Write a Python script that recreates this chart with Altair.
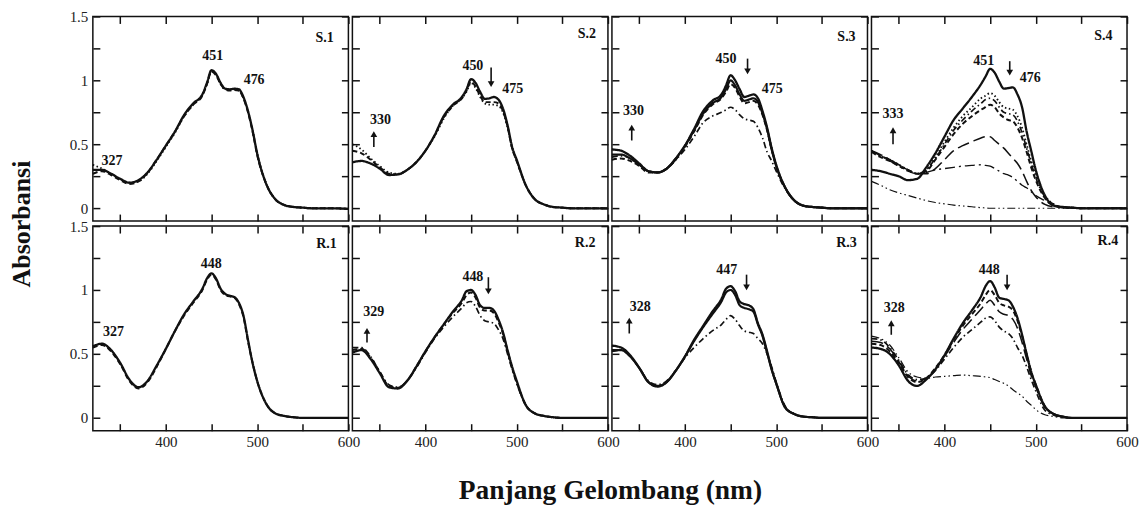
import altair as alt
import pandas as pd

# ---------------- data ----------------
WL = [320, 330, 340, 350, 360, 370, 380, 390, 400, 410, 420, 430, 440, 445, 450, 455,
      460, 465, 470, 475, 480, 485, 490, 495, 500, 510, 520, 530, 540, 550, 560, 580, 600]

S1_A = [0.30,0.30,0.27,0.23,0.20,0.22,0.28,0.38,0.49,0.60,0.73,0.82,0.89,0.98,1.08,1.05,0.98,0.935,0.93,0.935,0.93,0.87,0.76,0.61,0.43,0.19,0.07,0.025,0.01,0.005,0.0,0.0,-0.005]
S1_B = [0.27,0.29,0.26,0.22,0.19,0.21,0.28,0.38,0.49,0.60,0.72,0.81,0.88,0.97,1.07,1.04,0.97,0.93,0.92,0.925,0.92,0.86,0.75,0.60,0.42,0.19,0.07,0.025,0.01,0.005,0.0,0.0,-0.005]
S1_C = [0.34,0.31,0.27,0.23,0.20,0.21,0.27,0.37,0.48,0.59,0.72,0.81,0.89,0.97,1.07,1.05,0.97,0.93,0.93,0.93,0.92,0.86,0.76,0.61,0.43,0.19,0.07,0.025,0.01,0.005,0.0,0.0,-0.005]

S2_A = [0.36,0.37,0.35,0.31,0.26,0.265,0.30,0.36,0.45,0.57,0.72,0.81,0.87,0.93,1.01,0.98,0.91,0.855,0.86,0.87,0.85,0.78,0.65,0.48,0.38,0.18,0.07,0.03,0.01,0.005,0.0,0.0,0.0]
S2_B = [0.45,0.43,0.38,0.32,0.27,0.265,0.30,0.36,0.45,0.57,0.71,0.80,0.86,0.92,0.99,0.95,0.88,0.83,0.83,0.83,0.82,0.76,0.64,0.47,0.37,0.18,0.07,0.03,0.01,0.005,0.0,0.0,0.0]
S2_C = [0.50,0.46,0.39,0.33,0.28,0.27,0.30,0.36,0.45,0.56,0.70,0.80,0.86,0.91,0.98,0.94,0.87,0.82,0.81,0.81,0.80,0.75,0.63,0.47,0.37,0.18,0.07,0.03,0.01,0.005,0.0,0.0,0.0]

S3_A = [0.46,0.45,0.41,0.35,0.29,0.28,0.31,0.39,0.49,0.62,0.76,0.84,0.89,0.96,1.04,1.00,0.93,0.87,0.88,0.89,0.86,0.76,0.63,0.47,0.34,0.16,0.06,0.02,0.01,0.005,0.0,0.0,0.0]
S3_B = [0.42,0.42,0.39,0.34,0.29,0.28,0.31,0.39,0.49,0.61,0.74,0.82,0.87,0.93,1.00,0.96,0.89,0.84,0.85,0.86,0.83,0.74,0.62,0.46,0.33,0.16,0.06,0.02,0.01,0.005,0.0,0.0,0.0]
S3_C = [0.38,0.39,0.37,0.33,0.28,0.28,0.31,0.38,0.48,0.60,0.73,0.81,0.86,0.91,0.97,0.94,0.87,0.82,0.83,0.84,0.81,0.73,0.61,0.46,0.33,0.16,0.06,0.02,0.01,0.005,0.0,0.0,0.0]
S3_D = [0.40,0.41,0.39,0.34,0.29,0.28,0.31,0.38,0.46,0.56,0.67,0.72,0.75,0.77,0.79,0.77,0.73,0.70,0.69,0.68,0.63,0.55,0.44,0.37,0.29,0.15,0.06,0.02,0.01,0.005,0.0,0.0,0.0]

S4_A = [0.30,0.29,0.27,0.25,0.22,0.23,0.32,0.43,0.56,0.69,0.78,0.87,0.97,1.03,1.09,1.06,0.99,0.935,0.94,0.945,0.89,0.79,0.60,0.45,0.30,0.10,0.02,0.01,0.005,0.0,0.0,0.0,0.0]
S4_B = [0.45,0.41,0.38,0.34,0.30,0.27,0.30,0.40,0.52,0.63,0.72,0.79,0.86,0.88,0.90,0.88,0.83,0.79,0.78,0.77,0.72,0.63,0.50,0.37,0.26,0.10,0.03,0.01,0.005,0.0,0.0,0.0,0.0]
S4_C = [0.45,0.41,0.38,0.34,0.30,0.27,0.30,0.39,0.50,0.61,0.69,0.76,0.82,0.85,0.86,0.84,0.79,0.75,0.74,0.73,0.68,0.59,0.47,0.35,0.24,0.09,0.03,0.01,0.005,0.0,0.0,0.0,0.0]
S4_D = [0.44,0.40,0.37,0.33,0.30,0.27,0.29,0.38,0.48,0.58,0.66,0.72,0.77,0.79,0.81,0.79,0.74,0.71,0.69,0.68,0.63,0.55,0.44,0.32,0.22,0.08,0.02,0.01,0.005,0.0,0.0,0.0,0.0]
S4_E = [0.45,0.42,0.38,0.34,0.30,0.27,0.27,0.31,0.38,0.45,0.49,0.52,0.55,0.56,0.56,0.53,0.50,0.47,0.43,0.39,0.35,0.29,0.21,0.14,0.09,0.03,0.01,0.005,0.0,0.0,0.0,0.0,0.0]
S4_F = [0.45,0.41,0.37,0.33,0.29,0.27,0.28,0.30,0.31,0.32,0.33,0.335,0.34,0.335,0.33,0.31,0.29,0.27,0.26,0.24,0.21,0.18,0.16,0.13,0.10,0.06,0.02,0.005,0.0,0.0,0.0,0.0,0.0]
S4_G = [0.21,0.18,0.145,0.12,0.10,0.08,0.06,0.045,0.035,0.025,0.018,0.012,0.005,0.003,0.0,0.0,0.0,0.0,0.0,0.0,0.0,0.0,0.0,0.0,0.0,0.0,0.0,0.0,0.0,0.0,0.0,0.0,0.0]

R1_A = [0.56,0.58,0.53,0.43,0.30,0.24,0.29,0.41,0.54,0.68,0.81,0.91,1.01,1.09,1.13,1.09,1.01,0.97,0.955,0.945,0.90,0.80,0.61,0.43,0.29,0.11,0.035,0.015,0.005,0.0,0.0,0.0,0.0]
R1_B = [0.55,0.57,0.52,0.42,0.29,0.23,0.28,0.40,0.54,0.68,0.80,0.90,1.00,1.08,1.12,1.08,1.00,0.96,0.95,0.94,0.89,0.79,0.60,0.43,0.29,0.11,0.035,0.015,0.005,0.0,0.0,0.0,0.0]

R2_A = [0.51,0.53,0.46,0.35,0.24,0.23,0.29,0.40,0.52,0.63,0.73,0.83,0.92,0.99,1.00,0.96,0.88,0.86,0.86,0.84,0.77,0.67,0.53,0.40,0.29,0.10,0.035,0.015,0.005,0.0,0.0,0.0,0.0]
R2_B = [0.53,0.54,0.47,0.36,0.25,0.235,0.29,0.40,0.52,0.63,0.73,0.82,0.90,0.96,0.98,0.94,0.86,0.84,0.84,0.82,0.75,0.66,0.52,0.39,0.28,0.10,0.035,0.015,0.005,0.0,0.0,0.0,0.0]
R2_C = [0.55,0.55,0.48,0.36,0.26,0.24,0.29,0.39,0.51,0.62,0.71,0.79,0.86,0.90,0.91,0.87,0.80,0.76,0.75,0.74,0.69,0.62,0.50,0.38,0.27,0.10,0.035,0.015,0.005,0.0,0.0,0.0,0.0]

R3_A = [0.565,0.55,0.49,0.39,0.28,0.245,0.28,0.37,0.48,0.61,0.72,0.83,0.93,1.01,1.03,0.99,0.91,0.89,0.88,0.85,0.74,0.65,0.52,0.38,0.27,0.08,0.03,0.01,0.005,0.0,0.0,0.0,0.0]
R3_B = [0.53,0.53,0.48,0.39,0.28,0.25,0.28,0.37,0.48,0.60,0.71,0.81,0.91,0.98,1.00,0.96,0.88,0.86,0.85,0.83,0.73,0.64,0.51,0.38,0.27,0.08,0.03,0.01,0.005,0.0,0.0,0.0,0.0]
R3_C = [0.52,0.53,0.48,0.39,0.29,0.26,0.29,0.37,0.47,0.55,0.62,0.68,0.73,0.77,0.80,0.77,0.72,0.68,0.67,0.66,0.62,0.58,0.50,0.40,0.28,0.09,0.03,0.01,0.005,0.0,0.0,0.0,0.0]

R4_A = [0.55,0.54,0.50,0.41,0.29,0.25,0.30,0.38,0.49,0.62,0.74,0.84,0.95,1.03,1.07,1.02,0.94,0.93,0.92,0.87,0.78,0.65,0.50,0.36,0.26,0.09,0.03,0.01,0.0,0.0,0.0,0.0,0.0]
R4_B = [0.58,0.57,0.52,0.43,0.32,0.28,0.31,0.39,0.49,0.61,0.72,0.81,0.90,0.96,1.00,0.96,0.90,0.88,0.87,0.84,0.76,0.64,0.50,0.36,0.26,0.09,0.03,0.01,0.0,0.0,0.0,0.0,0.0]
R4_C = [0.60,0.59,0.54,0.44,0.33,0.29,0.31,0.38,0.48,0.59,0.69,0.77,0.85,0.89,0.92,0.88,0.83,0.81,0.80,0.77,0.70,0.59,0.46,0.33,0.24,0.08,0.03,0.01,0.0,0.0,0.0,0.0,0.0]
R4_D = [0.62,0.61,0.55,0.45,0.34,0.30,0.31,0.37,0.46,0.55,0.63,0.69,0.75,0.78,0.79,0.76,0.71,0.68,0.66,0.62,0.55,0.49,0.40,0.30,0.21,0.06,0.02,0.005,0.0,0.0,0.0,0.0,0.0]
R4_E = [0.64,0.62,0.57,0.47,0.36,0.32,0.31,0.32,0.325,0.33,0.335,0.33,0.325,0.32,0.315,0.30,0.285,0.27,0.25,0.22,0.195,0.17,0.13,0.10,0.065,0.025,0.01,0.0,0.0,0.0,0.0,0.0,0.0]

PANELS = ["S.1", "S.2", "S.3", "S.4", "R.1", "R.2", "R.3", "R.4"]

CURVES = {
    "S.1": [("a", "dot", S1_C), ("b", "dash", S1_B), ("c", "solid", S1_A)],
    "S.2": [("a", "dot", S2_C), ("b", "dash", S2_B), ("c", "solid", S2_A)],
    "S.3": [("a", "dashdot", S3_D), ("b", "dash", S3_C), ("c", "thin", S3_B), ("d", "solid", S3_A)],
    "S.4": [("a", "dashdotdot", S4_G), ("b", "longdashdot", S4_F), ("c", "longdash", S4_E),
            ("d", "dash", S4_D), ("e", "dashdot", S4_C), ("f", "dot", S4_B), ("g", "solid", S4_A)],
    "R.1": [("a", "dash", R1_B), ("b", "solid", R1_A)],
    "R.2": [("a", "dashdot", R2_C), ("b", "dash", R2_B), ("c", "solid", R2_A)],
    "R.3": [("a", "dashdot", R3_C), ("b", "thin", R3_B), ("c", "solid", R3_A)],
    "R.4": [("a", "dashdotdot", R4_E), ("b", "dashdot", R4_D), ("c", "longdash", R4_C),
            ("d", "dash", R4_B), ("e", "solid", R4_A)],
}

# peak labels, wavelength labels and panel names
ANN_PANEL = ["S.1", "S.1", "S.1", "S.1",
             "S.2", "S.2", "S.2", "S.2",
             "S.3", "S.3", "S.3", "S.3",
             "S.4", "S.4", "S.4", "S.4",
             "R.1", "R.1", "R.1",
             "R.2", "R.2", "R.2",
             "R.3", "R.3", "R.3",
             "R.4", "R.4", "R.4"]
ANN_TEXT = ["451", "476", "327", "S.1",
            "450", "475", "330", "S.2",
            "450", "475", "330", "S.3",
            "451", "476", "333", "S.4",
            "448", "327", "R.1",
            "448", "329", "R.2",
            "447", "328", "R.3",
            "448", "328", "R.4"]
ANN_WL = [451.4, 496.7, 341, 574,
          452, 495.7, 350.8, 577,
          445, 495.7, 343.6, 577,
          443, 494, 343.6, 574,
          449.7, 342.7, 576,
          452, 343.5, 575,
          445.8, 351, 577,
          449, 345, 579]
ANN_VAL = [1.19, 1.00, 0.37, 1.33,
           1.11, 0.93, 0.69, 1.36,
           1.17, 0.93, 0.76, 1.34,
           1.155, 1.02, 0.735, 1.35,
           1.20, 0.67, 1.36,
           1.10, 0.83, 1.37,
           1.16, 0.87, 1.37,
           1.16, 0.86, 1.38]

# arrows: tail value -> head value
ARR_PANEL = ["S.2", "S.2", "S.3", "S.3", "S.4", "S.4", "R.2", "R.2", "R.3", "R.3", "R.4", "R.4"]
ARR_WL = [472, 343.5, 468.6, 341.7, 471.5, 343.6, 469, 336, 467.5, 339, 468.6, 341.7]
ARR_TAIL = [1.10, 0.48, 1.17, 0.53, 1.15, 0.50, 1.10, 0.59, 1.12, 0.66, 1.12, 0.65]
ARR_HEAD = [0.97, 0.58, 1.07, 0.63, 1.06, 0.61, 0.99, 0.68, 1.02, 0.76, 1.02, 0.74]
ARR_DIR = ["down", "up", "down", "up", "down", "up", "down", "up", "down", "up", "down", "up"]

X_TICKS = [350, 400, 450, 500, 550, 600]          # 400/500/600 labelled on the bottom row
Y_TICKS = [0, 0.25, 0.5, 0.75, 1.0, 1.25, 1.5]    # 0/0.5/1/1.5 labelled on the left column

# ---------------- styling ----------------
INK = "#111111"
SERIF = "Liberation Serif"
W, H = 256, 205
X_DOM = [320, 600]
Y_DOM = [-0.1, 1.5]
TL = 7  # inward tick length in pixels

STYLE_NAMES = ["solid", "thin", "dash", "dot", "dashdot", "longdash", "longdashdot", "dashdotdot"]
STYLE_DASH = [[1, 0], [1, 0], [5, 3], [1.5, 2.5], [6, 3, 1.5, 3], [12, 5], [10, 4, 2, 4], [8, 3, 1.5, 3, 1.5, 3]]
STYLE_WIDTH = [2.3, 1.2, 1.3, 1.5, 1.3, 1.4, 1.4, 1.4]

XS = alt.Scale(domain=X_DOM, nice=False, zero=False)
YS = alt.Scale(domain=Y_DOM, nice=False, zero=False)

rows = []
for name, curves in CURVES.items():
    for cid, style, vals in curves:
        if len(vals) != len(WL):
            raise ValueError(f"{name} {cid}: {len(vals)} values")
        for w, v in zip(WL, vals):
            rows.append({"panel": name, "curve": cid, "style": style, "wl": w, "val": v})
curves_df = pd.DataFrame(rows)
ann_df = pd.DataFrame({"panel": ANN_PANEL, "text": ANN_TEXT, "wl": ANN_WL, "val": ANN_VAL})
arr_df = pd.DataFrame({"panel": ARR_PANEL, "wl": ARR_WL, "tail": ARR_TAIL, "head": ARR_HEAD, "dir": ARR_DIR})

# common look of the frame axes: ticks drawn inward (negative offset), no domain line
TICK_STYLE = dict(ticks=True, tickSize=TL, tickWidth=1.5, tickColor=INK, domain=False, grid=False,
                  offset=-TL, labelFont=SERIF, labelFontSize=15, labelColor="#222222",
                  labelFlush=False, labelOverlap=False, labelBound=False)


def make_panel(name, row, col):
    # bottom axis (labels on bottom row only)
    bkw = dict(TICK_STYLE, orient="bottom", values=X_TICKS)
    if row == 1:
        bkw.update(labels=True, labelPadding=4,
                   labelExpr="datum.value % 100 == 0 ? datum.label : ''")
    else:
        bkw.update(labels=False)
    if row == 1 and col == 1:
        bkw.update(title="Panjang Gelombang (nm)", titleX=W + 2, titleY=68 + TL,
                   titleAlign="center", titleBaseline="alphabetic", titleFont=SERIF,
                   titleFontSize=27.5, titleFontWeight="bold", titleColor=INK)
    else:
        bkw.update(title=None)
    bottom_axis = alt.Axis(**bkw)

    # left axis (labels on left column only)
    lkw = dict(TICK_STYLE, orient="left", values=Y_TICKS, format="~g")
    if col == 0:
        lkw.update(labels=True, labelPadding=5,
                   labelExpr="datum.value % 0.5 == 0 ? datum.label : ''")
    else:
        lkw.update(labels=False)
    if col == 0 and row == 0:
        lkw.update(title="Absorbansi", titleX=-63 - TL, titleY=H + 2.5, titleAngle=270,
                   titleAlign="center", titleBaseline="alphabetic", titleFont=SERIF,
                   titleFontSize=26, titleFontWeight="bold", titleColor=INK)
    else:
        lkw.update(title=None)
    left_axis = alt.Axis(**lkw)

    top_axis = alt.Axis(**dict(TICK_STYLE, orient="top", values=X_TICKS, labels=False, title=None))
    right_axis = alt.Axis(**dict(TICK_STYLE, orient="right", values=Y_TICKS, labels=False, title=None))

    cdf = curves_df[curves_df.panel == name]
    lines = alt.Chart(cdf).mark_line(interpolate="monotone", color=INK).encode(
        x=alt.X("wl:Q", scale=XS, axis=bottom_axis),
        y=alt.Y("val:Q", scale=YS, axis=left_axis),
        detail="curve:N",
        strokeDash=alt.StrokeDash("style:N", scale=alt.Scale(domain=STYLE_NAMES, range=STYLE_DASH), legend=None),
        strokeWidth=alt.StrokeWidth("style:O", scale=alt.Scale(domain=STYLE_NAMES, range=STYLE_WIDTH), legend=None),
        order=alt.Order("wl:Q"),
    )

    adf = ann_df[ann_df.panel == name]
    texts = alt.Chart(adf).mark_text(font=SERIF, fontWeight="bold", fontSize=14, color=INK,
                                     align="center", baseline="middle").encode(
        x=alt.X("wl:Q", scale=XS, axis=top_axis),
        y=alt.Y("val:Q", scale=YS, axis=right_axis),
        text="text:N")

    layers = [lines, texts]

    rdf = arr_df[arr_df.panel == name]
    if len(rdf):
        stems = alt.Chart(rdf).mark_rule(color=INK, strokeWidth=1.6).encode(
            x=alt.X("wl:Q", scale=XS, axis=None),
            y=alt.Y("tail:Q", scale=YS, axis=None),
            y2="head:Q")
        heads = alt.Chart(rdf).mark_point(filled=True, color=INK, size=45, opacity=1).encode(
            x=alt.X("wl:Q", scale=XS, axis=None),
            y=alt.Y("head:Q", scale=YS, axis=None),
            shape=alt.Shape("dir:N", scale=alt.Scale(domain=["up", "down"],
                                                     range=["triangle-up", "triangle-down"]), legend=None))
        layers += [stems, heads]

    return alt.layer(*layers).resolve_axis(x="independent", y="independent").properties(width=W, height=H)


panels = [make_panel(p, i // 4, i % 4) for i, p in enumerate(PANELS)]

chart = alt.concat(*panels, columns=4, spacing={"row": 5, "column": 4}, bounds="flush").properties(
    padding={"left": 0, "top": 0, "right": 0, "bottom": 0},
    background="white",
).configure_view(stroke=INK, strokeWidth=1.5)

chart.save("out.html", embed_options={"renderer": "svg", "actions": False})
